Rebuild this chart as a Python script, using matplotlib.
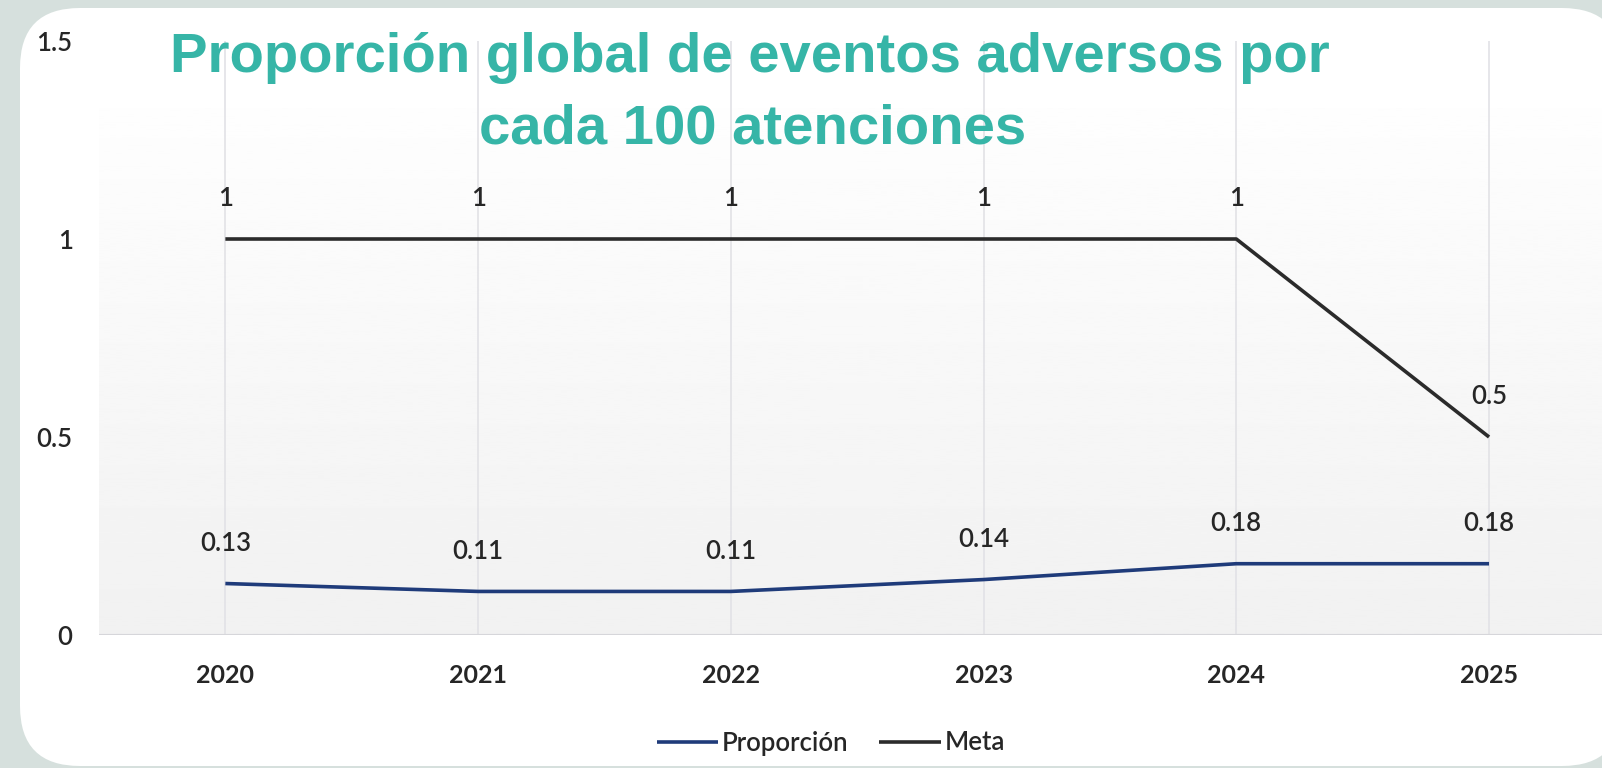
import numpy as np
import matplotlib
matplotlib.use('Agg')
import matplotlib.pyplot as plt
from matplotlib.patches import FancyBboxPatch

# Series values per year
years = ['2020', '2021', '2022', '2023', '2024', '2025']
proporcion = [0.13, 0.11, 0.11, 0.14, 0.18, 0.18]
meta = [1, 1, 1, 1, 1, 0.5]
yticks = [0, 0.5, 1, 1.5]
ytick_labels = ['0', '0.5', '1', '1.5']

title_1 = 'Proporción global de eventos adversos por'
title_2 = 'cada 100 atenciones'

body_font = ['Lato', 'DejaVu Sans']
teal = '#36b5a7'
navy = '#1f3b7a'
dark = '#2b2b2b'
label_color = '#262626'

fig = plt.figure(figsize=(16.02, 7.68), dpi=100)
fig.patch.set_facecolor('#d6e0dd')

# white rounded card behind the chart (inches)
card = FancyBboxPatch((0.20, 0.02), 16.02, 7.58,
                      boxstyle='round,pad=0,rounding_size=0.6',
                      transform=fig.dpi_scale_trans, facecolor='white',
                      edgecolor='none', zorder=-2)
fig.patches.append(card)

ax = fig.add_axes([99 / 1602, 133 / 768, (1615.4 - 99) / 1602, 594 / 768])
ax.set_facecolor('none')
x = np.arange(len(years))
ax.set_xlim(-0.5, len(years) - 0.5)
ax.set_ylim(0, 1.5)

# soft grey gradient in the lower part of the plot area
grad = np.linspace(0.945, 0.995, 256).reshape(-1, 1)
ax.imshow(grad, extent=(-0.5, len(years) - 0.5, 0, 1.33), origin='lower',
          cmap='gray', vmin=0, vmax=1, aspect='auto', zorder=0)

for xi in x:
    ax.axvline(xi, color='#e2e2e6', lw=1.2, zorder=1)
ax.axhline(0, color='#d6d6da', lw=1.5, zorder=1)

ax.plot(x, proporcion, color=navy, lw=2.6, label='Proporción', zorder=3,
        solid_capstyle='butt')
ax.plot(x, meta, color=dark, lw=2.6, label='Meta', zorder=3,
        solid_capstyle='butt')

for xi, v in zip(x, proporcion):
    ax.annotate(f'{v:g}', (xi, v), xytext=(0, 29), textcoords='offset points',
                ha='center', va='center', fontsize=18.5, family=body_font,
                fontweight='semibold', color=label_color)
for xi, v in zip(x, meta):
    ax.annotate(f'{v:g}', (xi, v), xytext=(0, 29), textcoords='offset points',
                ha='center', va='center', fontsize=18.5, family=body_font,
                fontweight='semibold', color=label_color)

ax.set_xticks(x)
ax.set_xticklabels(years, fontsize=18, family=body_font, fontweight='bold',
                   color=label_color)
ax.set_yticks(yticks)
ax.set_yticklabels(ytick_labels, fontsize=18.5, family=body_font,
                   fontweight='semibold', color=label_color)
ax.tick_params(axis='x', length=0, pad=21)
ax.tick_params(axis='y', length=0, pad=19)
for s in ax.spines.values():
    s.set_visible(False)

fig.text(750 / 1602, 1 - 72 / 768, title_1, ha='center', va='baseline',
         fontsize=40.5, fontweight='bold', color=teal,
         family=['Liberation Sans', 'DejaVu Sans'])
fig.text(753 / 1602, 1 - 143 / 768, title_2, ha='center', va='baseline',
         fontsize=40.5, fontweight='bold', color=teal,
         family=['Liberation Sans', 'DejaVu Sans'])

fig.legend(loc='center', bbox_to_anchor=(831 / 1602, 25 / 768), ncol=2,
           frameon=False, handlelength=2.4, handletextpad=0.15,
           columnspacing=1.2,
           prop={'family': body_font, 'size': 18.5, 'weight': 'semibold'})
for t in fig.legends[0].get_texts():
    t.set_color(label_color)

fig.savefig('out.png', dpi=100, facecolor=fig.get_facecolor())
